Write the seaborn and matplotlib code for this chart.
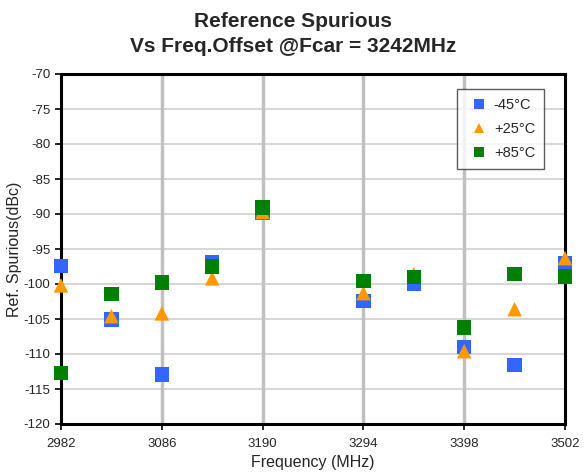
import numpy as np
import pandas as pd
import matplotlib
matplotlib.use("Agg")
import matplotlib.pyplot as plt
import seaborn as sns

# frequencies (MHz), carrier 3242 skipped
freq = [2982, 3034, 3086, 3138, 3190, 3294, 3346, 3398, 3450, 3502]
temps = ["-45°C", "+25°C", "+85°C"]

spur_m45 = [-97.4, -105.1, -112.9, -96.9, -89.8, -102.4, -99.9, -109.0, -111.6, -97.1]
spur_p25 = [-100.2, -104.6, -104.2, -99.2, -89.7, -101.3, -98.6, -109.6, -103.6, -96.3]
spur_p85 = [-112.7, -101.4, -99.8, -97.5, -89.1, -99.6, -99.0, -106.2, -98.6, -98.9]

df = pd.DataFrame({
    "freq": freq * 3,
    "spur": spur_m45 + spur_p25 + spur_p85,
    "temp": [t for t in temps for _ in freq],
})

sns.set_style("white")
plt.rcParams["font.family"] = ["Liberation Sans", "DejaVu Sans"]
plt.rcParams["axes.unicode_minus"] = False

fig = plt.figure(figsize=(5.87, 4.74), dpi=100)
ax = fig.add_axes([61 / 587, 1 - 424 / 474, (565 - 61) / 587, (424 - 74) / 474])

palette = {"-45°C": "#3366ff", "+25°C": "#ff9900", "+85°C": "#008000"}
markers = {"-45°C": "s", "+25°C": "^", "+85°C": "s"}

sns.scatterplot(data=df, x="freq", y="spur", hue="temp", style="temp",
                palette=palette, markers=markers, s=110, linewidth=0,
                ax=ax, zorder=3, clip_on=False)

ax.set_xlim(2982, 3502)
ax.set_ylim(-120, -70)
ax.set_xticks(np.arange(2982, 3503, 104))
ax.set_yticks(np.arange(-120, -69, 5))
ax.tick_params(axis="both", labelsize=9.5, direction="out", length=4, width=1.2,
               color="black", left=True, bottom=True)
ax.tick_params(axis="x", pad=6)

for y in np.arange(-115, -70, 5):
    ax.axhline(y, color="#d0d0d0", lw=1.2, zorder=1)
for x in [3086, 3190, 3294, 3398]:
    ax.axvline(x, color="#c0c0c0", lw=2.5, zorder=1)

for sp in ax.spines.values():
    sp.set_color("black")
    sp.set_linewidth(2.2)

ax.set_xlabel("Frequency (MHz)", fontsize=11.5, labelpad=4)
ax.set_ylabel("Ref. Spurious(dBc)", fontsize=11.5, labelpad=1)
fig.text(0.5, 1 - 34 / 474, "Reference Spurious\nVs Freq.Offset @Fcar = 3242MHz",
         ha="center", va="center", fontsize=15, fontweight="bold", linespacing=1.45)

handles, labels = ax.get_legend_handles_labels()
leg = ax.legend(handles, labels, loc="upper right", bbox_to_anchor=(0.958, 0.957),
                fontsize=10.5, frameon=True, fancybox=False, markerscale=0.65,
                handletextpad=0.1, labelspacing=0.7, borderpad=0.6,
                handlelength=1.8, borderaxespad=0)
leg.get_frame().set_edgecolor("#333333")
leg.get_frame().set_linewidth(1.0)

fig.savefig("out.png", dpi=100)
